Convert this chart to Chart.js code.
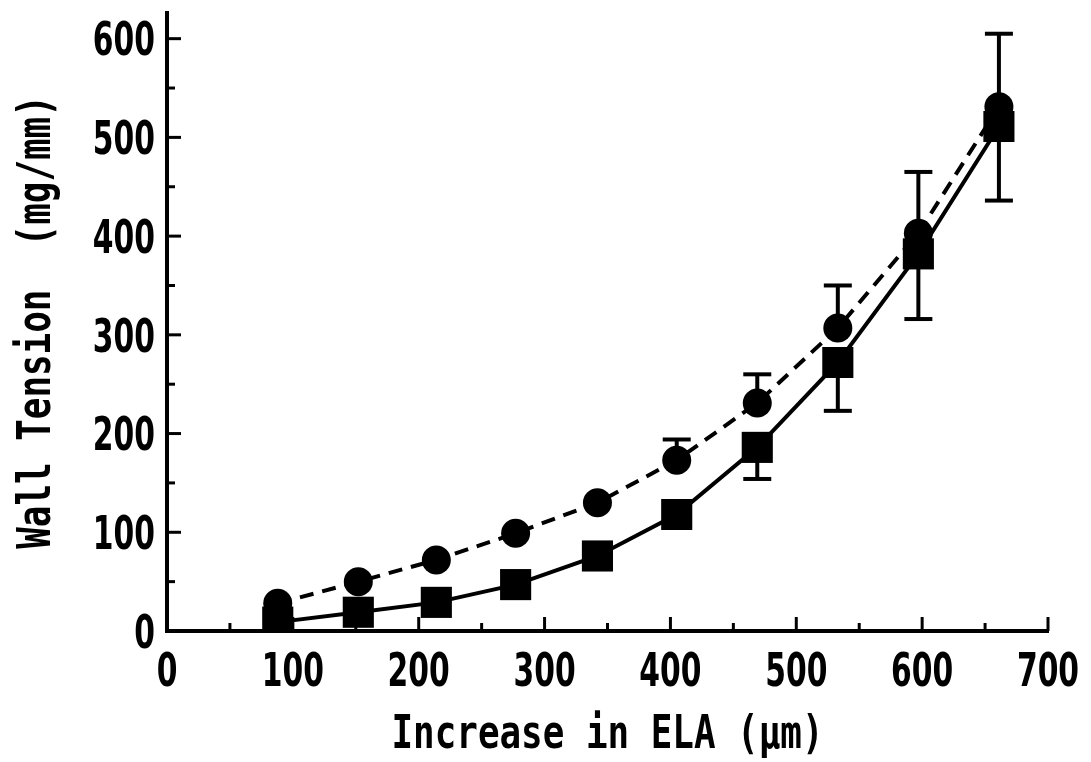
<!DOCTYPE html>
<html>
<head>
<meta charset="utf-8">
<script src="https://cdn.jsdelivr.net/npm/chart.js@4.4.0/dist/chart.umd.min.js"></script>
<style>
  html, body { margin: 0; padding: 0; background: #fff; }
  #wrap { width: 1091px; height: 762px; }
</style>
</head>
<body>
<div id="wrap"><canvas id="chart" width="1091" height="762"></canvas></div>
<script>
// dados
const elaIncrease = [88, 152, 214, 277, 342, 405, 469, 533, 597, 661];
const tensionCircles = [28, 50, 72, 99, 130, 173, 231, 307, 403, 531];
const tensionSquares = [9, 19, 29, 47, 76, 118, 186, 272, 382, 511];
const errCirclesUp = [0, 0, 0, 0, 0, 21, 29, 43, 62, 74];
const errSquaresDown = [0, 0, 0, 0, 0, 0, 32, 49, 66, 75];
const xTickLabels = [0, 100, 200, 300, 400, 500, 600, 700];
const yTickLabels = [0, 100, 200, 300, 400, 500, 600];
const xMinorTicks = [50, 150, 250, 350, 450, 550, 650];
const yMinorTicks = [50, 150, 250, 350, 450, 550];
const xTitle = 'Increase in ELA (\u03bcm)';
const yTitle = 'Wall Tension  (mg/mm)';

// fonte estreita tipo plotter: desenha com escala horizontal
const TICK_FONT = "bold 46px 'DejaVu Sans Condensed', 'DejaVu Sans', sans-serif";
const TITLE_FONT = "bold 46px 'DejaVu Sans Mono', 'Liberation Mono', monospace";
const CAP = 0.729 * 46;

function drawText(ctx, text, x, y, font, sx, align, rot) {
  ctx.save();
  ctx.translate(x, y);
  if (rot) ctx.rotate(rot);
  ctx.scale(sx, 1);
  ctx.font = font;
  ctx.textAlign = align;
  ctx.textBaseline = 'alphabetic';
  ctx.fillStyle = '#000';
  ctx.fillText(text, 0, 0);
  ctx.restore();
}

// ticks para dentro + textos dos eixos
const axisDecor = {
  id: 'axisDecor',
  afterDraw(chart) {
    const { ctx, chartArea, scales: { x, y } } = chart;
    ctx.save();
    ctx.strokeStyle = '#000';
    ctx.lineWidth = 3;
    const y0 = y.getPixelForValue(0);
    const x0 = x.getPixelForValue(0);
    xTickLabels.forEach(v => {
      const px = x.getPixelForValue(v);
      ctx.beginPath(); ctx.moveTo(px, y0); ctx.lineTo(px, y0 - 14); ctx.stroke();
      drawText(ctx, String(v), px, y0 + 55, TICK_FONT, 0.72, 'center');
    });
    xMinorTicks.forEach(v => {
      const px = x.getPixelForValue(v);
      ctx.beginPath(); ctx.moveTo(px, y0); ctx.lineTo(px, y0 - 8); ctx.stroke();
    });
    yTickLabels.forEach(v => {
      const py = y.getPixelForValue(v);
      ctx.beginPath(); ctx.moveTo(x0, py); ctx.lineTo(x0 + 14, py); ctx.stroke();
      drawText(ctx, String(v), x0 - 12, py + CAP / 2, TICK_FONT, 0.72, 'right');
    });
    yMinorTicks.forEach(v => {
      const py = y.getPixelForValue(v);
      ctx.beginPath(); ctx.moveTo(x0, py); ctx.lineTo(x0 + 8, py); ctx.stroke();
    });
    const cx = (chartArea.left + chartArea.right) / 2;
    const cy = (chartArea.top + chartArea.bottom) / 2;
    drawText(ctx, xTitle, cx, y0 + 117, TITLE_FONT, 0.78, 'center');
    drawText(ctx, yTitle, 50, cy, TITLE_FONT, 0.78, 'center', -Math.PI / 2);
    ctx.restore();
  }
};

const errorBars = {
  id: 'errorBars',
  afterDatasetsDraw(chart) {
    const { ctx, scales: { x, y } } = chart;
    ctx.save();
    ctx.strokeStyle = '#000';
    ctx.lineWidth = 4;
    chart.data.datasets.forEach(ds => {
      if (!ds.err) return;
      ds.data.forEach((pt, i) => {
        const e = ds.err[i];
        if (!e) return;
        const px = x.getPixelForValue(pt.x);
        const pa = y.getPixelForValue(pt.y);
        const pb = y.getPixelForValue(pt.y + ds.errDir * e);
        ctx.beginPath(); ctx.moveTo(px, pa); ctx.lineTo(px, pb); ctx.stroke();
        ctx.beginPath(); ctx.moveTo(px - 14, pb); ctx.lineTo(px + 14, pb); ctx.stroke();
      });
    });
    ctx.restore();
  }
};

new Chart(document.getElementById('chart'), {
  type: 'line',
  data: {
    datasets: [
      {
        data: elaIncrease.map((v, i) => ({ x: v, y: tensionCircles[i] })),
        err: errCirclesUp, errDir: 1,
        borderColor: '#000', backgroundColor: '#000',
        borderWidth: 4, borderDash: [14, 9],
        pointStyle: 'circle', pointRadius: 14.5, pointBorderWidth: 0,
        tension: 0, clip: false
      },
      {
        data: elaIncrease.map((v, i) => ({ x: v, y: tensionSquares[i] })),
        err: errSquaresDown, errDir: -1,
        borderColor: '#000', backgroundColor: '#000',
        borderWidth: 4,
        pointStyle: 'rect', pointRadius: 22, pointBorderWidth: 0,
        tension: 0
      }
    ]
  },
  options: {
    responsive: false,
    animation: false,
    events: [],
    layout: { autoPadding: false, padding: { top: 13, right: 43, left: 0, bottom: 0 } },
    plugins: { legend: { display: false }, tooltip: { enabled: false } },
    scales: {
      x: {
        type: 'linear', min: 0, max: 700,
        afterBuildTicks: s => { s.ticks = xTickLabels.map(v => ({ value: v })); },
        afterFit: s => { s.height = 131; s.paddingLeft = 0; s.paddingRight = 0; },
        grid: { display: false, drawTicks: false },
        border: { display: true, color: '#000', width: 4 },
        ticks: { display: false },
        title: { display: false }
      },
      y: {
        type: 'linear', min: 0, max: 626,
        afterBuildTicks: s => { s.ticks = yTickLabels.map(v => ({ value: v })); },
        afterFit: s => { s.width = 167; s.paddingTop = 0; s.paddingBottom = 0; },
        grid: { display: false, drawTicks: false },
        border: { display: true, color: '#000', width: 4 },
        ticks: { display: false },
        title: { display: false }
      }
    }
  },
  plugins: [axisDecor, errorBars]
});
</script>
</body>
</html>
